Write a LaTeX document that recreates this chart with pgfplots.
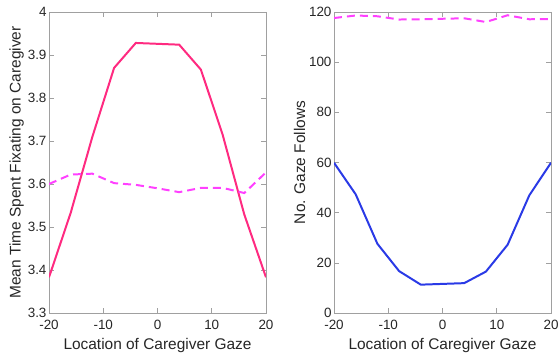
\documentclass[border=0pt]{standalone}
\usepackage{pgfplots}
\pgfplotsset{compat=1.18}
\usepackage{fontspec}
\setmainfont{Liberation Sans}
\definecolor{pinkred}{HTML}{FF2A80}
\definecolor{magdash}{HTML}{FF40FF}
\definecolor{blueln}{HTML}{2A3AE6}
\definecolor{axgray}{HTML}{A0A0A0}
\definecolor{txt}{HTML}{262626}
\pgfplotsset{
  mystyle/.style={
    scale only axis, width=217bp, height=301bp,
    axis line style={axgray, line width=0.6pt},
    tick style={axgray, line width=0.6pt},
    major tick length=5bp,
    tick align=inside,
    xtick pos=both, ytick pos=both,
    xmin=-20, xmax=20, xtick={-20,-10,0,10,20},
    tick label style={font=\fontsize{13.5}{15}\selectfont, text=txt},
    label style={font=\fontsize{15.5}{17}\selectfont, text=txt},
    xticklabel style={yshift=-4bp},
    yticklabel style={xshift=1bp},
    /pgf/number format/assume math mode=true,
    xlabel={Location of Caregiver Gaze},
    xlabel style={yshift=-1bp},
    ylabel style={yshift=-3bp},
    anchor=south west,
  }
}
\begin{document}
\begin{tikzpicture}
\useasboundingbox (0,0) rectangle (558bp,354bp);
\begin{axis}[mystyle, at={(49bp,41bp)},
  ymin=3.3, ymax=4, ytick={3.3,3.4,...,4.01},
  ylabel={Mean Time Spent Fixating on Caregiver}]
\addplot[pinkred, line width=2pt] coordinates {
(-20,3.383) (-16,3.533) (-12,3.71) (-8,3.870) (-4,3.928) (4,3.924) (8,3.866) (12,3.715) (16,3.529) (20,3.383)};
\addplot[magdash, line width=2pt, dash pattern=on 8bp off 5bp] coordinates {
(-20,3.600) (-16,3.622) (-12,3.624) (-8,3.602) (-4,3.598) (0,3.590) (4,3.581) (8,3.591) (12,3.591) (16,3.579) (20,3.627)};
\end{axis}
\begin{axis}[mystyle, at={(334bp,41bp)},
  ymin=0, ymax=120, ytick={0,20,...,120},
  ylabel={No. Gaze Follows}]
\addplot[blueln, line width=2pt] coordinates {
(-20,59.9) (-16,47.3) (-12,27.6) (-8,16.7) (-4,11.3) (4,11.9) (8,16.5) (12,27.2) (16,46.9) (20,59.9)};
\addplot[magdash, line width=2pt, dash pattern=on 8bp off 5bp] coordinates {
(-20,117.6) (-16,118.6) (-12,118.3) (-8,117.0) (-4,117.1) (0,117.3) (4,117.5) (8,116.0) (12,118.7) (16,117.1) (20,117.2)};
\end{axis}
\end{tikzpicture}
\end{document}
